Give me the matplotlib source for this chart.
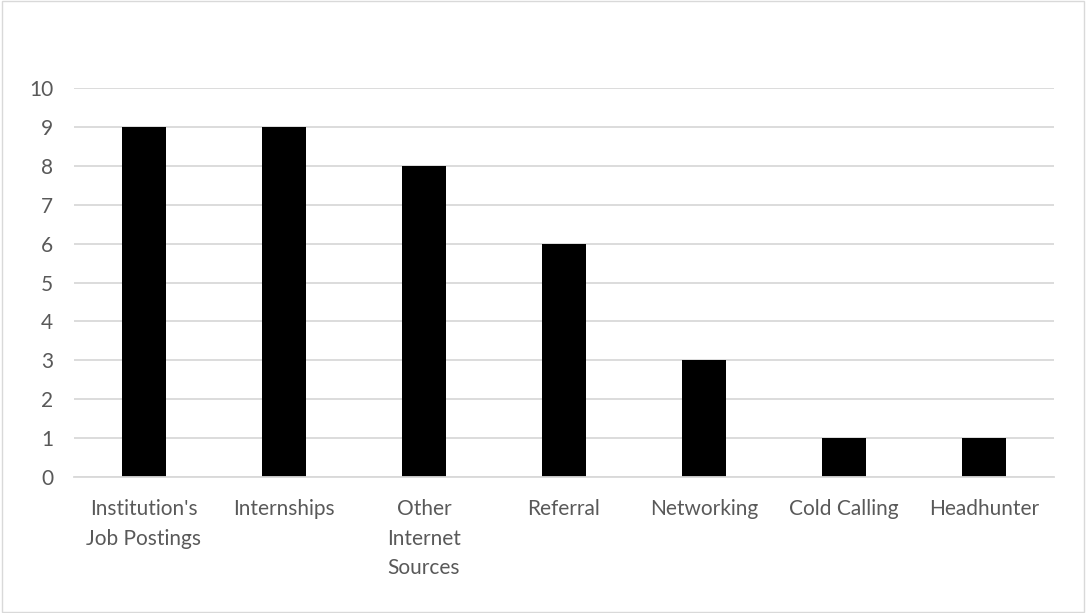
import matplotlib.pyplot as plt
from matplotlib.patches import Rectangle

categories = ["Institution's\nJob Postings", "Internships", "Other\nInternet\nSources",
              "Referral", "Networking", "Cold Calling", "Headhunter"]
values = [9, 9, 8, 6, 3, 1, 1]

plt.rcParams['font.family'] = ['Lato', 'DejaVu Sans']

fig = plt.figure(figsize=(10.86, 6.13), dpi=100)
ax = fig.add_axes([0.0681, 0.2219, 0.9024, 0.6345])

# chart border
fig.patches.append(Rectangle((0.0015, 0.0015), 0.997, 0.997, transform=fig.transFigure,
                             fill=False, edgecolor="#d9d9d9", linewidth=1))

x = range(len(categories))
ax.bar(x, values, width=0.314, color="black", zorder=3)

ax.set_xlim(-0.5, len(categories) - 0.5)
ax.set_ylim(0, 10)
ax.set_yticks(range(0, 11))
ax.set_xticks(list(x))
ax.set_xticklabels(categories, fontsize=15, color="#595959", linespacing=1.6)
ax.tick_params(axis="y", labelsize=15, labelcolor="#595959", length=0, pad=15)
ax.tick_params(axis="x", length=0, pad=16)

ax.grid(axis="y", color="#d9d9d9", linewidth=1.3, zorder=0)
for s in ["top", "right", "left"]:
    ax.spines[s].set_visible(False)
ax.spines["bottom"].set_color("#d9d9d9")
ax.spines["bottom"].set_linewidth(1.3)
ax.spines["bottom"].set_zorder(4)

fig.savefig("out.png", dpi=100)
